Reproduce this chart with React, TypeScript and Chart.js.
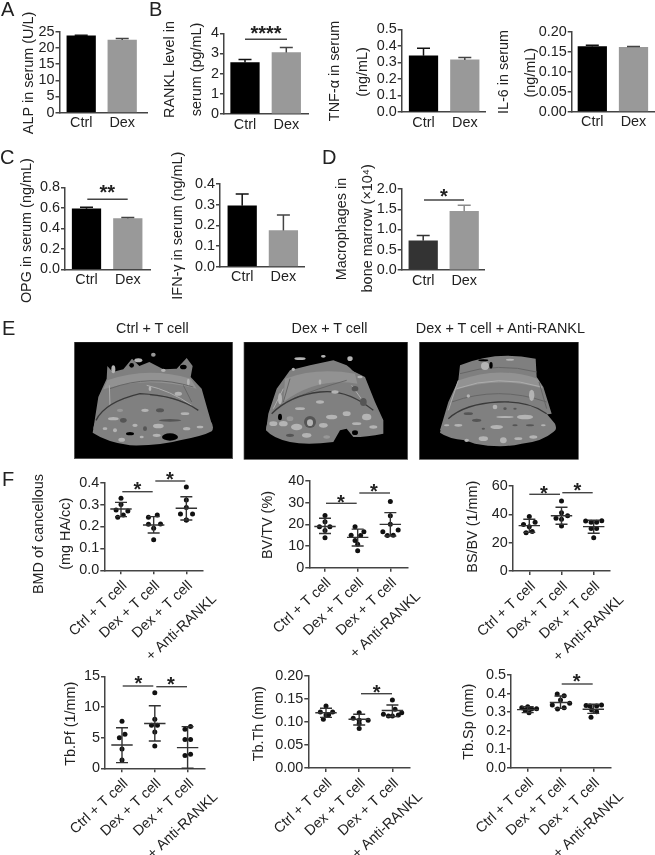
import React, { useEffect, useRef } from "react";
import { Chart, registerables } from "chart.js";

Chart.register(...registerables);

// ---------- data ----------
const barCategories = ["Ctrl", "Dex"];
const groupCategories = ["Ctrl + T cell", "Dex + T cell", "Dex + T cell"];
const groupSecondLine = "+ Anti-RANKL";

const alpValues = [23.7, 22.4];
const alpTops = [23.9, 22.9];
const ranklValues = [2.55, 3.05];
const ranklTops = [2.7, 3.29];
const tnfValues = [0.34, 0.315];
const tnfTops = [0.385, 0.33];
const il6Values = [0.163, 0.161];
const il6Tops = [0.166, 0.163];
const opgValues = [0.59, 0.495];
const opgTops = [0.605, 0.505];
const ifnValues = [0.295, 0.175];
const ifnTops = [0.352, 0.25];
const macroValues = [0.72, 1.45];
const macroTops = [0.85, 1.6];

type Pt = [number, number];
const bmdPoints: Pt[][] = [
  [[0, 0.329], [0, 0.301], [-0.15, 0.275], [0.21, 0.271], [-0.1, 0.242], [0.07, 0.252]],
  [[0.11, 0.252], [-0.16, 0.242], [0.21, 0.211], [-0.16, 0.21], [0, 0.192], [0, 0.14]],
  [[0, 0.38], [0, 0.321], [0, 0.287], [-0.18, 0.257], [0.19, 0.257], [0, 0.23], [0, 0.23]],
];
const bmdStats = [[0.28, 0.31, 0.245], [0.207, 0.245, 0.17], [0.283, 0.336, 0.23]];
const bvPoints: Pt[][] = [
  [[0, 24.1], [0, 21.2], [-0.17, 18.9], [0.15, 18.9], [0, 17.2], [0, 13.8]],
  [[-0.08, 18.9], [0.19, 16.6], [0.09, 14.8], [-0.2, 15], [-0.08, 12.5], [0, 10.8], [0, 7.8]],
  [[0, 30.5], [0, 24], [0, 20], [-0.23, 16.6], [0.24, 17.4], [-0.09, 14.8], [0.09, 15]],
];
const bvStats = [[19, 22.8, 15.8], [14, 17.8, 10], [20, 25.4, 14.6]];
const bsPoints: Pt[][] = [
  [[0, 38.4], [0.18, 34.4], [-0.18, 32.9], [0, 31.3], [-0.1, 27], [0.09, 27.8]],
  [[0, 49.4], [0, 41.2], [0.19, 39], [-0.17, 37.2], [0, 36.5], [0, 31.8]],
  [[-0.25, 35.3], [0.25, 35.5], [-0.08, 34.4], [0.09, 34.4], [-0.08, 30], [0.09, 30], [0, 23.5]],
];
const bsStats = [[32, 36.5, 27.3], [39, 45, 33], [31.3, 35.8, 26.6]];
const pfPoints: Pt[][] = [
  [[0, 7.66], [0.09, 5.54], [-0.08, 5], [0, 3.15], [0, 1.36]],
  [[0, 12.3], [0, 8], [-0.1, 7], [0.08, 7], [0, 5.9], [0, 3.64]],
  [[0.09, 6.8], [-0.08, 6.36], [-0.08, 4.7], [0.09, 4.7], [-0.08, 2.07], [0.09, 2.3]],
];
const pfStats = [[3.8, 6.6, 0.92], [7.3, 10.2, 4.46], [3.37, 6.8, 0]];
const thPoints: Pt[][] = [
  [[0, 0.135], [-0.17, 0.122], [0.2, 0.122], [0.08, 0.116], [0, 0.115], [-0.08, 0.106]],
  [[0, 0.12], [-0.18, 0.108], [0.27, 0.104], [0, 0.104], [0, 0.097], [0, 0.086]],
  [[0, 0.148], [0.08, 0.1275], [-0.27, 0.117], [0.28, 0.12], [-0.12, 0.113], [0, 0.113], [0.18, 0.115]],
];
const thStats = [[0.12, 0.13, 0.11], [0.106, 0.117, 0.0935], [0.125, 0.137, 0.112]];
const spPoints: Pt[][] = [
  [[0, 0.329], [-0.18, 0.324], [0.27, 0.318], [0.12, 0.317], [-0.08, 0.311], [0.04, 0.297]],
  [[-0.1, 0.397], [0.11, 0.388], [0, 0.365], [0.28, 0.347], [-0.25, 0.338], [-0.09, 0.317], [0.11, 0.324]],
  [[-0.22, 0.335], [-0.1, 0.333], [0.25, 0.338], [0.1, 0.333], [-0.05, 0.311], [0.1, 0.302], [-0.07, 0.272]],
];
const spStats = [[0.313, 0.329, 0.297], [0.352, 0.387, 0.32], [0.315, 0.342, 0.293]];

// ---------- layout ----------
const TEXT = "#222";
const AXIS = "#444";
const FONT = "'Liberation Sans', Arial, sans-serif";
const W = 655;
const H = 855;

type Label = { s: string; x: number; y: number };
type Bracket = { x0: number; x1: number; y: number; stars: string; sx: number; sy: number };
type Panel = {
  plot: [number, number, number, number];
  c0: number;
  sp: number;
  yMax: number;
  step: number;
  dec: number;
  titles: Label[];
  brackets?: Bracket[];
  bars?: { values: number[]; tops: number[]; colors?: string[]; errColors?: string[] };
  groups?: { points: Pt[][]; stats: number[][] };
};

const bar = (values: number[], tops: number[], colors?: string[], errColors?: string[]) => ({ values, tops, colors, errColors });

const panels: Panel[] = [
  { plot: [59.5, 31.7, 147, 112.7], c0: 81.2, sp: 41, yMax: 25, step: 5, dec: 0, bars: bar(alpValues, alpTops),
    titles: [{ s: "ALP in serum (U/L)", x: 29, y: 73 }] },
  { plot: [224, 33.3, 308, 114], c0: 245, sp: 41.3, yMax: 4, step: 1, dec: 0, bars: bar(ranklValues, ranklTops),
    titles: [{ s: "RANKL level in", x: 170, y: 69.5 }, { s: "serum (pg/mL)", x: 197, y: 69.5 }],
    brackets: [{ x0: 245, x1: 287, y: 39.3, stars: "****", sx: 266, sy: 29 }] },
  { plot: [401.7, 29.3, 486, 112], c0: 423.5, sp: 41.3, yMax: 0.5, step: 0.1, dec: 1, bars: bar(tnfValues, tnfTops),
    titles: [{ s: "TNF-α in serum", x: 335, y: 71 }, { s: "(ng/mL)", x: 362.7, y: 72 }] },
  { plot: [571.7, 31.7, 655, 111.7], c0: 592.3, sp: 41.2, yMax: 0.2, step: 0.05, dec: 2, bars: bar(il6Values, il6Tops),
    titles: [{ s: "IL-6 in serum", x: 504.3, y: 72 }, { s: "(ng/mL)", x: 530.7, y: 72.7 }] },
  { plot: [65, 187.3, 150, 269.3], c0: 86.5, sp: 41.3, yMax: 0.8, step: 0.2, dec: 1, bars: bar(opgValues, opgTops),
    titles: [{ s: "OPG in serum (ng/mL)", x: 26.7, y: 230.7 }],
    brackets: [{ x0: 87.3, x1: 127.7, y: 199.3, stars: "**", sx: 107.3, sy: 187.7 }] },
  { plot: [220, 184, 304, 266.7], c0: 242.2, sp: 41.2, yMax: 0.4, step: 0.1, dec: 1, bars: bar(ifnValues, ifnTops),
    titles: [{ s: "IFN-γ in serum (ng/mL)", x: 178.3, y: 225.7 }] },
  { plot: [401.7, 189, 485, 270], c0: 423.2, sp: 41, yMax: 2, step: 0.5, dec: 1, bars: bar(macroValues, macroTops, ["#333333", "#999999"], ["#333", "#8a8a8a"]),
    titles: [{ s: "Macrophages in", x: 341.7, y: 229 }, { s: "bone marrow (×10⁴)", x: 368.3, y: 228.3 }],
    brackets: [{ x0: 424, x1: 464, y: 200, stars: "*", sx: 444, sy: 191.7 }] },
  { plot: [104.3, 482.7, 202.7, 570.3], c0: 121, sp: 32.67, yMax: 0.4, step: 0.1, dec: 1, groups: { points: bmdPoints, stats: bmdStats },
    titles: [{ s: "BMD of cancellous", x: 39.3, y: 534 }, { s: "(mg HA/cc)", x: 66, y: 533.7 }],
    brackets: [{ x0: 122.3, x1: 152.7, y: 491.7, stars: "*", sx: 137.3, sy: 485 }, { x0: 155.3, x1: 185.3, y: 481, stars: "*", sx: 170, sy: 475 }] },
  { plot: [309.3, 481, 407.3, 567.7], c0: 325, sp: 32.67, yMax: 40, step: 10, dec: 0, groups: { points: bvPoints, stats: bvStats },
    titles: [{ s: "BV/TV (%)", x: 268.3, y: 525 }],
    brackets: [{ x0: 326, x1: 356.7, y: 503.3, stars: "*", sx: 341, sy: 497.3 }, { x0: 359.3, x1: 390, y: 493, stars: "*", sx: 374, sy: 486.7 }] },
  { plot: [512.7, 486, 610, 571], c0: 529.3, sp: 32.2, yMax: 60, step: 20, dec: 0, groups: { points: bsPoints, stats: bsStats },
    titles: [{ s: "BS/BV (1/mm)", x: 472.7, y: 526.7 }],
    brackets: [{ x0: 529.3, x1: 560, y: 494.3, stars: "*", sx: 544, sy: 488.3 }, { x0: 562.3, x1: 592.7, y: 492.7, stars: "*", sx: 577.3, sy: 486 }] },
  { plot: [105, 676.3, 204.3, 768.3], c0: 122, sp: 32.8, yMax: 15, step: 5, dec: 0, groups: { points: pfPoints, stats: pfStats },
    titles: [{ s: "Tb.Pf (1/mm)", x: 71, y: 723.7 }],
    brackets: [{ x0: 122.7, x1: 153.3, y: 686, stars: "*", sx: 138.3, sy: 679 }, { x0: 156.3, x1: 187, y: 686.7, stars: "*", sx: 171, sy: 680 }] },
  { plot: [308.3, 676, 409.3, 768], c0: 326, sp: 33.2, yMax: 0.2, step: 0.05, dec: 2, groups: { points: thPoints, stats: thStats },
    titles: [{ s: "Tb.Th (mm)", x: 259.3, y: 723.7 }],
    brackets: [{ x0: 361, x1: 392, y: 693.7, stars: "*", sx: 376.7, sy: 687.3 }] },
  { plot: [511, 675, 610.7, 767.7], c0: 527.7, sp: 32.8, yMax: 0.5, step: 0.1, dec: 1, groups: { points: spPoints, stats: spStats },
    titles: [{ s: "Tb.Sp (mm)", x: 469.3, y: 721.7 }],
    brackets: [{ x0: 561.7, x1: 592.7, y: 684, stars: "*", sx: 576.7, sy: 676.7 }] },
];

const letters = [
  { s: "A", x: 1, y: -3 }, { s: "B", x: 149, y: -3 }, { s: "C", x: 0, y: 145 }, { s: "D", x: 322, y: 145 },
  { s: "E", x: 2, y: 316 }, { s: "F", x: 2, y: 467 },
];
const imageLabels = [
  { s: "Ctrl + T cell", x: 152.4 }, { s: "Dex + T cell", x: 329.5 }, { s: "Dex + T cell + Anti-RANKL", x: 500.4 },
];

// ---------- chart factory ----------
function annotations(p: Panel) {
  return {
    id: "annotations",
    afterDatasetsDraw(chart: any) {
      const ctx = chart.ctx;
      const xs = chart.scales.x;
      const ys = chart.scales.y;
      ctx.save();
      if (p.bars) {
        p.bars.tops.forEach((t, i) => {
          const cx = xs.getPixelForValue(i);
          ctx.strokeStyle = p.bars!.errColors ? p.bars!.errColors[i] : i === 0 ? "#111" : "#444";
          ctx.lineWidth = 1.5;
          ctx.beginPath();
          ctx.moveTo(cx, ys.getPixelForValue(p.bars!.values[i]));
          ctx.lineTo(cx, ys.getPixelForValue(t));
          ctx.moveTo(cx - 6.5, ys.getPixelForValue(t));
          ctx.lineTo(cx + 6.5, ys.getPixelForValue(t));
          ctx.stroke();
        });
      }
      if (p.groups) {
        p.groups.stats.forEach(([m, hi, lo], i) => {
          const cx = xs.getPixelForValue(i);
          ctx.strokeStyle = "#333";
          ctx.lineWidth = 1.4;
          ctx.beginPath();
          ctx.moveTo(cx - 10.7, ys.getPixelForValue(m));
          ctx.lineTo(cx + 10.7, ys.getPixelForValue(m));
          ctx.moveTo(cx, ys.getPixelForValue(hi));
          ctx.lineTo(cx, ys.getPixelForValue(lo));
          ctx.moveTo(cx - 6, ys.getPixelForValue(hi));
          ctx.lineTo(cx + 6, ys.getPixelForValue(hi));
          ctx.moveTo(cx - 6, ys.getPixelForValue(lo));
          ctx.lineTo(cx + 6, ys.getPixelForValue(lo));
          ctx.stroke();
        });
      }
      ctx.restore();
    },
    afterDraw(chart: any) {
      const ctx = chart.ctx;
      ctx.save();
      ctx.fillStyle = TEXT;
      ctx.textAlign = "center";
      ctx.textBaseline = "middle";
      ctx.font = `14.4px ${FONT}`;
      p.titles.forEach((t) => {
        ctx.save();
        ctx.translate(t.x, t.y);
        ctx.rotate(-Math.PI / 2);
        ctx.fillText(t.s, 0, 0);
        ctx.restore();
      });
      (p.brackets || []).forEach((b) => {
        ctx.strokeStyle = AXIS;
        ctx.lineWidth = 1.4;
        ctx.beginPath();
        ctx.moveTo(b.x0, b.y);
        ctx.lineTo(b.x1, b.y);
        ctx.stroke();
        ctx.font = `bold 20px ${FONT}`;
        ctx.textBaseline = "alphabetic";
        ctx.fillText(b.stars, b.sx, b.sy + 11.4);
      });
      if (p.groups) {
        const xs = chart.scales.x;
        const px = xs.getPixelForValue(2) + 4 + 24;
        const py = chart.chartArea.bottom + 10 + 16.7;
        ctx.font = `14.4px ${FONT}`;
        ctx.textAlign = "right";
        ctx.textBaseline = "middle";
        ctx.translate(px, py);
        ctx.rotate((-43 * Math.PI) / 180);
        ctx.fillText(groupSecondLine, 0, 0);
      }
      ctx.restore();
    },
  };
}

function makeChart(canvas: HTMLCanvasElement, p: Panel) {
  const [px0, py0, px1, py1] = p.plot;
  const isBars = !!p.bars;
  const cats = isBars ? barCategories : groupCategories;
  const data = isBars
    ? {
        datasets: [
          {
            data: p.bars!.values.map((v, i) => ({ x: i, y: v })),
            backgroundColor: p.bars!.colors || ["#000000", "#999999"],
            barThickness: 28.6,
            borderWidth: 0,
          },
        ],
      }
    : {
        datasets: [
          {
            data: p.groups!.points.flatMap((g, i) => g.map(([dx, y]) => ({ x: i + dx, y }))),
            pointRadius: 2.5,
            pointBackgroundColor: "#111",
            pointBorderWidth: 0,
            showLine: false,
          },
        ],
      };
  return new Chart(canvas, {
    type: isBars ? "bar" : "scatter",
    data: data as any,
    plugins: [annotations(p)],
    options: {
      animation: false,
      responsive: false,
      layout: { padding: { left: 0, top: py0, right: W - px1, bottom: 0 } },
      plugins: { legend: { display: false }, tooltip: { enabled: false }, title: { display: false } },
      scales: {
        x: {
          type: "linear",
          offset: false,
          min: (px0 - p.c0) / p.sp,
          max: (px1 - p.c0) / p.sp,
          afterBuildTicks: (s: any) => {
            s.ticks = cats.map((_, i) => ({ value: i }));
          },
          afterFit: (s: any) => {
            s.height = H - py1;
          },
          border: { display: true, color: AXIS, width: 1.5 },
          grid: isBars
            ? { display: false, offset: false, drawTicks: false }
            : { display: true, offset: false, drawOnChartArea: false, drawTicks: true, tickLength: 4, color: AXIS, lineWidth: 1.5 },
          ticks: {
            autoSkip: false,
            color: TEXT,
            font: { family: FONT, size: 14.4 },
            padding: isBars ? 2 : 3,
            minRotation: isBars ? 0 : 43,
            maxRotation: isBars ? 0 : 43,
            labelOffset: isBars ? 0 : 4,
            callback: (v: any) => cats[v as number] ?? "",
          },
        },
        y: {
          type: "linear",
          min: 0,
          max: p.yMax,
          afterFit: (s: any) => {
            s.width = px0;
          },
          border: { display: true, color: AXIS, width: 1.5 },
          grid: { display: true, drawOnChartArea: false, drawTicks: true, tickLength: 4, color: AXIS, lineWidth: 1.5 },
          ticks: {
            autoSkip: false,
            stepSize: p.step,
            color: TEXT,
            padding: 1,
            font: { family: FONT, size: 14.4 },
            callback: (v: any) => Number(v).toFixed(p.dec),
          },
        },
      },
    } as any,
  });
}

// ---------- micro-CT picture stand-ins ----------
type Spot = [number, number, number, number, string];
type Ct = {
  x: number;
  w: number;
  box: [number, number, number, number];
  wall: string;
  band: string;
  arc: string;
  base: string;
  lines: string[];
  spots: Spot[];
};
const L = "#b4b4b4";
const M = "#989898";
const D = "#555555";
const K = "#000";
const cts: Ct[] = [
  {
    x: 70, w: 170, box: [13, -10, 475, 350],
    wall: "M85 155 L110 100 L112 62 L128 80 L160 72 L186 40 L208 62 L238 50 L280 72 L320 70 L350 38 L368 62 L362 95 L395 130 L412 190 L425 235 L70 250 Z",
    band: "M112 105 Q230 62 362 100 L380 130 Q230 90 100 132 Z",
    arc: "M78 225 Q105 170 210 145 Q320 150 385 195",
    base: "M68 262 Q72 225 90 215 Q130 170 210 150 Q320 155 385 195 L420 225 Q435 245 425 258 Q400 272 330 285 Q270 302 180 300 Q110 290 68 262 Z",
    lines: ["M120 130 Q240 85 370 125", "M230 120 Q300 135 365 180", "M240 150 Q300 150 350 175", "M120 180 L118 120", "M340 120 L365 170"],
    spots: [[180, 265, 12, 5, K], [300, 275, 24, 11, K], [160, 225, 10, 7, D], [270, 195, 12, 6, D], [150, 195, 9, 5, M], [225, 195, 11, 5, L], [130, 220, 16, 5, L], [195, 240, 8, 5, L], [265, 242, 16, 7, L], [105, 250, 7, 4, L], [135, 255, 6, 6, L], [225, 250, 6, 7, D], [300, 225, 34, 4, D], [350, 250, 11, 5, L], [390, 245, 10, 4, L], [240, 130, 4, 7, L], [325, 145, 11, 6, L], [155, 283, 10, 6, L], [215, 275, 6, 4, L], [260, 270, 12, 5, L], [345, 205, 13, 4, L], [205, 45, 12, 6, L], [130, 72, 6, 12, L], [185, 60, 7, 7, K], [250, 28, 7, 6, M], [280, 75, 7, 5, L], [340, 65, 10, 7, K], [355, 110, 4, 10, L], [300, 50, 10, 5, K]],
  },
  {
    x: 240, w: 175, box: [12, -10, 491, 352],
    wall: "M85 205 L110 130 L150 75 L210 60 L280 45 L320 60 L345 80 L375 95 L405 170 L430 225 L78 255 Z",
    band: "M135 100 Q230 65 345 85 L352 115 Q230 95 130 170 Z",
    arc: "M95 205 Q150 150 240 140 Q320 130 400 195",
    base: "M78 255 Q80 230 90 220 Q130 170 240 140 Q340 140 410 200 L430 225 L430 265 Q380 275 340 275 L320 250 L300 255 L280 290 Q200 300 150 290 Q100 280 78 255 Z",
    lines: ["M130 170 L150 100", "M100 190 L130 130", "M160 160 Q230 130 320 105", "M335 120 L385 190"],
    spots: [[120, 215, 6, 10, K], [345, 262, 9, 7, K], [210, 230, 18, 18, D], [210, 232, 9, 10, L], [170, 245, 17, 10, L], [130, 235, 13, 8, L], [100, 235, 12, 7, L], [150, 220, 10, 7, M], [250, 240, 13, 7, L], [275, 215, 17, 7, L], [320, 205, 12, 7, L], [380, 215, 14, 10, L], [240, 170, 12, 5, L], [180, 190, 15, 4, L], [285, 140, 11, 5, L], [345, 130, 10, 8, D], [370, 170, 10, 12, D], [350, 235, 14, 4, L], [400, 245, 12, 5, L], [120, 160, 6, 17, L], [200, 270, 14, 7, L], [260, 275, 10, 5, M], [150, 270, 12, 5, D], [240, 110, 4, 8, L], [180, 40, 17, 4, L], [250, 33, 7, 4, L], [330, 40, 8, 7, L], [160, 72, 5, 5, L], [350, 60, 20, 20, K], [190, 55, 17, 5, K], [360, 95, 8, 4, L]],
  },
  {
    x: 415, w: 172, box: [13, -10, 477, 352],
    wall: "M135 60 Q240 15 362 40 L365 95 L385 125 L410 205 L75 255 L100 170 L130 105 Z",
    band: "M132 105 Q250 60 368 100 L385 130 Q250 90 118 135 Z",
    arc: "M100 220 Q150 175 250 170 Q340 165 395 205",
    base: "M75 262 Q80 235 95 220 Q130 175 250 170 Q350 170 395 205 L420 235 Q428 255 415 260 Q380 290 320 295 Q260 310 180 295 L150 285 Q100 280 75 262 Z",
    lines: ["M135 85 Q250 50 365 80", "M125 130 Q250 85 380 125", "M110 170 Q250 120 395 170", "M100 195 L130 105", "M395 190 L372 110"],
    spots: [[210, 62, 12, 12, L], [228, 60, 5, 10, K], [285, 43, 12, 3, L], [370, 75, 4, 16, K], [205, 45, 15, 3, K], [350, 150, 8, 17, L], [160, 152, 5, 5, L], [330, 215, 24, 7, L], [270, 215, 26, 3, L], [160, 205, 14, 4, D], [130, 240, 12, 4, L], [185, 225, 14, 5, D], [245, 245, 19, 6, L], [300, 240, 8, 3, D], [345, 240, 12, 3, D], [385, 240, 7, 3, L], [155, 285, 7, 5, L], [205, 280, 14, 7, L], [265, 285, 10, 9, L], [310, 280, 12, 4, L], [355, 275, 12, 5, L], [240, 185, 7, 7, L], [270, 190, 5, 4, D], [95, 240, 8, 3, L], [205, 250, 5, 3, D], [300, 190, 5, 3, D]],
  },
];

function CtPicture({ ct }: { ct: Ct }) {
  return (
    <svg
      width={ct.w}
      height={125}
      viewBox={`0 -10 ${ct.w * 3} 375`}
      style={{ position: "absolute", left: ct.x, top: 341.7, overflow: "hidden" }}
    >
      <rect x={ct.box[0]} y={ct.box[1]} width={ct.box[2]} height={ct.box[3]} fill="#000" stroke="#555" strokeWidth="2" />
      <g style={{ filter: "blur(0.7px)" }}>
        <path d={ct.wall} fill="#7f7f7f" />
        <path d={ct.band} fill="#929292" />
        {ct.lines.map((d, i) => (
          <path key={i} d={d} fill="none" stroke={i % 2 ? "#adadad" : "#666666"} strokeWidth="3" />
        ))}
        <path d={ct.base} fill="#808080" />
        <path d={ct.arc} fill="none" stroke="#3a3a3a" strokeWidth="4" />
        {ct.spots.map(([cx, cy, rx, ry, c], i) => (
          <ellipse key={i} cx={cx} cy={cy} rx={rx} ry={ry} fill={c} />
        ))}
      </g>
    </svg>
  );
}

export default function App() {
  const refs = useRef<(HTMLCanvasElement | null)[]>([]);
  useEffect(() => {
    const charts = panels.map((p, i) => makeChart(refs.current[i]!, p));
    return () => charts.forEach((c) => c.destroy());
  }, []);
  return (
    <div style={{ position: "absolute", left: 0, top: 0, width: W, height: H, overflow: "hidden", fontFamily: FONT, color: TEXT, background: "#fff" }}>
      {cts.map((ct, i) => (
        <CtPicture key={i} ct={ct} />
      ))}
      {panels.map((_, i) => (
        <canvas
          key={i}
          ref={(el) => {
            refs.current[i] = el;
          }}
          width={W}
          height={H}
          style={{ position: "absolute", left: 0, top: 0, width: W, height: H, pointerEvents: "none" }}
        />
      ))}
      {letters.map((l) => (
        <div key={l.s} style={{ position: "absolute", left: l.x, top: l.y, fontSize: 20, lineHeight: "24px" }}>
          {l.s}
        </div>
      ))}
      {imageLabels.map((l) => (
        <div key={l.x} style={{ position: "absolute", left: l.x - 120, width: 240, top: 319, textAlign: "center", fontSize: 14.4, lineHeight: "18px" }}>
          {l.s}
        </div>
      ))}
    </div>
  );
}
